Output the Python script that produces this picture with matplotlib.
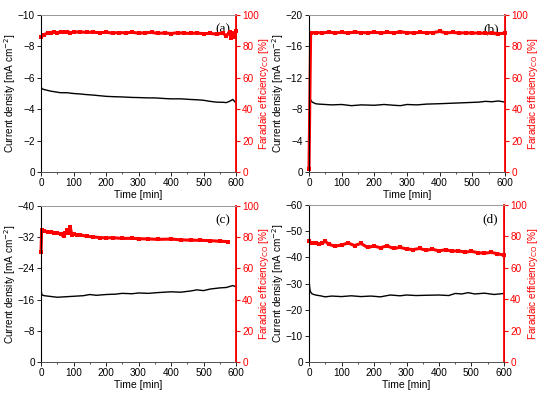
import matplotlib
matplotlib.use('Agg')
import matplotlib.pyplot as plt
from matplotlib.ticker import MultipleLocator

plt.rcParams['font.family'] = ['Liberation Sans', 'DejaVu Sans']

# ---- panel (a) ----
t_a = [0, 1, 3, 10, 20, 30, 45, 60, 80, 100, 120, 140, 160, 180, 200, 220, 250, 280, 300,
       330, 350, 380, 400, 430, 460, 480, 500, 520, 540, 560, 570, 580, 590, 600]
j_a = [-6.2, -5.4, -5.3, -5.25, -5.2, -5.15, -5.1, -5.05, -5.05, -5.0, -4.97, -4.93, -4.9, -4.86,
       -4.82, -4.8, -4.78, -4.75, -4.74, -4.72, -4.72, -4.68, -4.66, -4.66, -4.62, -4.6, -4.57,
       -4.5, -4.45, -4.44, -4.42, -4.5, -4.62, -4.4]
tf_a = [0, 10, 20, 30, 40, 50, 60, 70, 80, 90, 100, 120, 140, 160, 180, 200, 220, 240, 260, 280,
        300, 320, 340, 360, 380, 400, 420, 440, 460, 480, 500, 520, 540, 560, 570, 580, 585, 590, 595, 600]
fe_a = [86, 87.5, 88.5, 88.8, 89, 88.6, 89.2, 89, 89.4, 88.8, 89, 89.3, 88.9, 89.1, 88.7, 89, 88.5,
        88.8, 88.6, 89, 88.4, 88.7, 88.9, 88.3, 88.6, 88.2, 88.7, 88.4, 88.3, 88.5, 88.1, 88.3, 87.8,
        88.6, 86.5, 89.2, 85.5, 88.8, 86, 89.5]

# ---- panel (b) ----
t_b = [0, 1, 3, 6, 10, 20, 30, 50, 70, 100, 130, 160, 200, 230, 260, 280, 300, 330, 360, 400,
       430, 460, 490, 520, 540, 560, 580, 600]
j_b = [-18.0, -10.0, -9.4, -9.1, -8.9, -8.7, -8.65, -8.6, -8.55, -8.6, -8.45, -8.55, -8.5, -8.6,
       -8.5, -8.45, -8.6, -8.55, -8.65, -8.7, -8.75, -8.8, -8.85, -8.9, -9.0, -8.95, -9.05, -8.9]
tf_b = [0, 5, 20, 40, 60, 80, 100, 120, 140, 160, 180, 200, 220, 240, 260, 280, 300, 320, 340,
        360, 380, 400, 420, 440, 460, 480, 500, 520, 540, 560, 580, 600]
fe_b = [2, 88.5, 88.8, 88.6, 89, 88.7, 88.9, 88.6, 89.1, 88.8, 88.7, 89, 88.6, 88.9, 88.7, 89.2,
        88.8, 88.6, 88.9, 88.7, 88.8, 89.5, 88.6, 88.9, 88.5, 88.7, 88.4, 88.6, 88.3, 88.5, 88.2, 88.3]

# ---- panel (c) ----
t_c = [0, 1, 3, 10, 20, 40, 50, 70, 90, 110, 130, 150, 170, 200, 230, 250, 280, 300, 330, 360,
       400, 430, 460, 480, 500, 520, 550, 570, 590, 600]
j_c = [-37.0, -18.0, -17.2, -17.0, -16.9, -16.7, -16.6, -16.7, -16.8, -16.9, -17.0, -17.3, -17.1,
       -17.3, -17.4, -17.6, -17.5, -17.7, -17.6, -17.8, -18.0, -17.9, -18.2, -18.5, -18.3, -18.7,
       -19.0, -19.1, -19.6, -19.3]
tf_c = [0, 2, 10, 20, 30, 40, 50, 60, 70, 75, 80, 85, 90, 95, 100, 110, 120, 140, 160, 180, 200,
        220, 250, 280, 300, 330, 360, 400, 430, 460, 490, 520, 550, 575]
fe_c = [70.5, 84.5, 84, 83.5, 83.3, 83, 82.8, 82, 80.5, 82.5, 84.5, 82.5, 86.5, 81.5, 82, 81.2,
        81.5, 80.6, 80.2, 79.8, 79.5, 79.7, 79.2, 79.3, 79, 78.9, 78.6, 78.8, 78.3, 78.1, 78,
        77.8, 77.4, 77.2]

# ---- panel (d) ----
t_d = [0, 1, 3, 6, 10, 20, 35, 50, 70, 100, 130, 160, 190, 220, 250, 280, 300, 330, 360, 400,
       430, 450, 470, 490, 510, 540, 570, 600]
j_d = [-43.0, -30.0, -27.5, -26.5, -26.0, -25.6, -25.3, -24.9, -25.2, -25.0, -25.3, -25.0, -25.2,
       -24.9, -25.6, -25.3, -25.6, -25.4, -25.5, -25.6, -25.4, -26.2, -26.0, -26.5, -26.0, -26.3,
       -25.8, -26.2]
tf_d = [0, 10, 20, 30, 40, 50, 60, 80, 100, 120, 140, 160, 180, 200, 220, 240, 260, 280, 300, 320,
        340, 360, 380, 400, 420, 440, 460, 480, 500, 520, 540, 560, 580, 600]
fe_d = [77, 75.5, 75.8, 75, 75.5, 77, 75, 73.8, 74.5, 75.8, 74.2, 75.5, 73, 73.8, 72.8, 74, 72.3,
        73, 72, 71.6, 72.3, 71.2, 71.8, 70.8, 71.5, 70.6, 70.8, 70, 70.5, 69.6, 69.3, 69.8, 69, 68]

panels = [
    ('(a)', t_a, j_a, tf_a, fe_a, -10, 2),
    ('(b)', t_b, j_b, tf_b, fe_b, -20, 4),
    ('(c)', t_c, j_c, tf_c, fe_c, -40, 8),
    ('(d)', t_d, j_d, tf_d, fe_d, -60, 10),
]

# axes boxes in pixels (left, top, right, bottom) on a 550x398 canvas
boxes = [(41, 15, 236, 172), (309, 15, 505, 172), (41, 206, 236, 362), (309, 205, 504, 362)]
# y-label anchors in pixels: right edge of left label, left edge of right label
label_x = [(18, 257), (286, 526), (18, 257), (286, 526)]

W, H = 550, 398
fig = plt.figure(figsize=(W / 100, H / 100), dpi=100)
red = '#ff0000'

for (label, t, j, tf, fe, jmax, jstep), (l, tp, r, b), (lx, rx) in zip(panels, boxes, label_x):
    w = r - l
    ax = fig.add_axes([l / W, 1 - b / H, w / W, (b - tp) / H])
    ax.plot(t, j, color='black', linewidth=1.0)
    ax.set_xlim(0, 600)
    ax.set_ylim(0, jmax)
    ax.xaxis.set_major_locator(MultipleLocator(100))
    ax.xaxis.set_minor_locator(MultipleLocator(50))
    ax.yaxis.set_major_locator(MultipleLocator(jstep))
    ax.tick_params(which='both', direction='out', labelsize=7.2, top=False, right=False, pad=1.5)
    ax.tick_params(which='major', length=3, width=0.6)
    ax.tick_params(which='minor', length=1.5, width=0.5)
    ax.set_xlabel('Time [min]', fontsize=7.5, labelpad=1)
    ax.set_ylabel('Current density [mA cm$^{-2}$]', fontsize=7.2)
    ax.yaxis.set_label_coords((lx - l) / w, 0.5)
    ax.spines['top'].set_color('#999999')
    ax.spines['bottom'].set_color('#555555')
    for s in ax.spines.values():
        s.set_linewidth(0.7)
    ax.text(0.97, 0.95, label, transform=ax.transAxes, ha='right', va='top',
            fontsize=9.5, family=['Liberation Serif', 'DejaVu Serif'])

    ax2 = ax.twinx()
    ax2.plot(tf, fe, color=red, linewidth=2.2, marker='s', markersize=3.2,
             markeredgewidth=0, clip_on=False)
    ax2.set_ylim(0, 100)
    ax2.yaxis.set_major_locator(MultipleLocator(20))
    ax2.tick_params(axis='y', colors=red, direction='out', labelsize=7.2, length=3, width=0.8, pad=1.5)
    ax2.spines['right'].set_color(red)
    ax2.spines['right'].set_linewidth(1.3)
    ax2.spines['top'].set_color('#999999')
    ax2.spines['top'].set_linewidth(0.7)
    ax2.spines['bottom'].set_color('#555555')
    ax2.spines['bottom'].set_linewidth(0.7)
    ax2.set_ylabel('Faradaic efficiency$_{\\mathrm{CO}}$ [%]', color=red, fontsize=7.2)
    ax2.yaxis.set_label_coords((rx - l) / w, 0.5)

fig.savefig('out.png', dpi=100)
